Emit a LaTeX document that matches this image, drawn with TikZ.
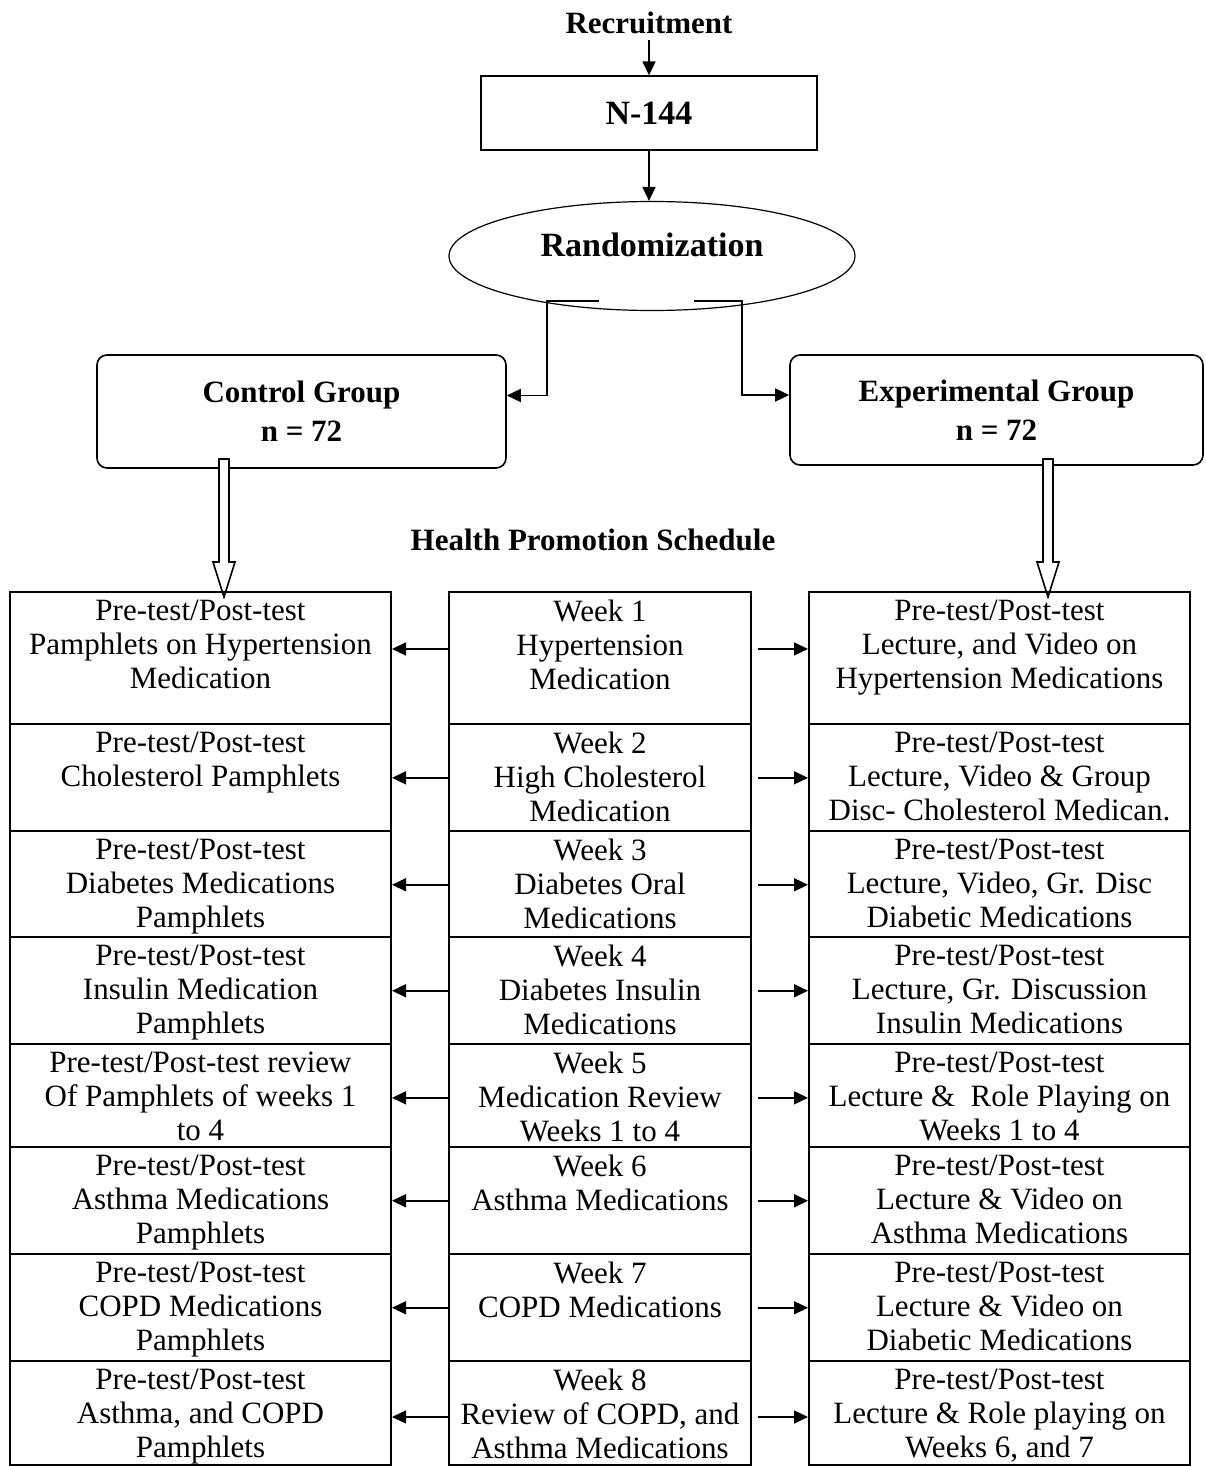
\documentclass[tikz,border=0pt]{standalone}
\usepackage{fontspec}
\setmainfont{Liberation Serif}
\usetikzlibrary{arrows.meta, positioning, shapes.geometric}

\tikzset{
  headtext/.style={font=\fontsize{15.5pt}{19.5pt}\selectfont\bfseries, inner sep=0pt},
  bigbox/.style={draw, line width=0.7pt, font=\fontsize{17pt}{20pt}\selectfont\bfseries},
  groupbox/.style={draw, line width=0.8pt, rounded corners=5pt, align=center,
    font=\fontsize{15.5pt}{19.5pt}\selectfont\bfseries},
  cellbox/.style={draw, line width=1pt, inner sep=0pt},
  celltext/.style={align=center, inner sep=0pt, font=\fontsize{15.5pt}{17pt}\selectfont},
  arr/.style={line width=0.75pt, -{Triangle[length=7pt, width=6.5pt]}},
  hollow/.style={draw, line width=0.8pt, fill=white}
}

\begin{document}
\begin{tikzpicture}[x=0.5pt, y=-0.5pt]
  \useasboundingbox (0,0) rectangle (1205,1466);

  %% Recruitment and randomization
  \node[headtext] (recruit) at (649,23) {Recruitment};
  \node[bigbox, minimum width=168pt, minimum height=37pt] (n144) at (649,113) {N-144};
  \node[bigbox, ellipse, line width=0.6pt, minimum width=203pt, minimum height=54.5pt,
    text depth=11pt] (rand) at (652,256) {Randomization};
  \coordinate (recruitfoot) at ([yshift=-3pt]recruit.south);
  \draw[arr] (recruitfoot) -- (n144.north);
  \draw[arr] (n144.south) -- (n144.south |- rand.north);

  %% Groups
  \node[groupbox, minimum width=204.5pt, minimum height=56.5pt] (ctrl) at (301.5,411.5)
    {Control Group\\n = 72};
  \node[groupbox, minimum width=206.5pt, minimum height=55pt] (expt) at (996.5,410)
    {Experimental Group\\n = 72};

  %% Split lines under the ellipse
  \coordinate (splitL) at (599,301);
  \coordinate (splitR) at (694,301);
  \draw[arr] (splitL) -- (547,301) |- ([yshift=8pt]ctrl.east);
  \draw[arr] (splitR) -- (742,301) |- ([yshift=7.5pt]expt.west);

  %% Hollow arrows down to the schedule
  \foreach \x in {224,1048}
    \draw[hollow] (\x-5,459) -- (\x+5,459) -- (\x+5,562) -- (\x+11,562)
      -- (\x,597) -- (\x-11,562) -- (\x-5,562) -- cycle;

  \node[headtext] (sched) at (593,540) {Health Promotion Schedule};

  %% Schedule table
  \foreach \i/\top/\bot/\lt/\mt/\rt in {
    1/591/723/{Pre-test/Post-test\\Pamphlets on Hypertension\\Medication}/{Week 1\\Hypertension\\Medication}/{Pre-test/Post-test\\Lecture, and Video on\\Hypertension Medications},
    2/723/830/{Pre-test/Post-test\\Cholesterol Pamphlets}/{Week 2\\High Cholesterol\\Medication}/{Pre-test/Post-test\\Lecture, Video \& Group\\Disc- Cholesterol Medican.},
    3/830/936/{Pre-test/Post-test\\Diabetes Medications\\Pamphlets}/{Week 3\\Diabetes Oral\\Medications}/{Pre-test/Post-test\\Lecture, Video, Gr. Disc\\Diabetic Medications},
    4/936/1043/{Pre-test/Post-test\\Insulin Medication\\Pamphlets}/{Week 4\\Diabetes Insulin\\Medications}/{Pre-test/Post-test\\Lecture, Gr. Discussion\\Insulin Medications},
    5/1043/1146/{Pre-test/Post-test review\\Of Pamphlets of weeks 1\\to 4}/{Week 5\\Medication Review\\Weeks 1 to 4}/{Pre-test/Post-test\\Lecture \& \ Role Playing on\\Weeks 1 to 4},
    6/1146/1253/{Pre-test/Post-test\\Asthma Medications\\Pamphlets}/{Week 6\\Asthma Medications}/{Pre-test/Post-test\\Lecture \& Video on\\Asthma Medications},
    7/1253/1360/{Pre-test/Post-test\\COPD Medications\\Pamphlets}/{Week 7\\COPD Medications}/{Pre-test/Post-test\\Lecture \& Video on\\Diabetic Medications},
    8/1360/1464/{Pre-test/Post-test\\Asthma, and COPD\\Pamphlets}/{Week 8\\Review of COPD, and\\Asthma Medications}/{Pre-test/Post-test\\Lecture \& Role playing on\\Weeks 6, and 7}%
  }{
    \node[cellbox, minimum width=190.5pt, minimum height={(\bot-\top)*0.5pt}, anchor=north]
      (L\i) at (200.5,\top) {};
    \node[cellbox, minimum width=151pt, minimum height={(\bot-\top)*0.5pt}, anchor=north]
      (M\i) at (600,\top) {};
    \node[cellbox, minimum width=190.5pt, minimum height={(\bot-\top)*0.5pt}, anchor=north]
      (R\i) at (999.5,\top) {};
    \node[celltext, below=4.5pt of L\i.north] (tL\i) {\lt};
    \node[celltext, below=4.5pt of M\i.north] (tM\i) {\mt};
    \node[celltext, below=4.5pt of R\i.north] (tR\i) {\rt};
    % arrows out of the week column
    \coordinate (mid\i) at ([yshift=-0.5pt]tR\i.center);
    \coordinate (ra\i) at (M\i.east |- mid\i);
    \draw[arr] (M\i.west |- mid\i) -- (L\i.east |- mid\i);
    \draw[arr] ([xshift=3pt]ra\i) -- (R\i.west |- mid\i);
  }

\end{tikzpicture}
\end{document}
